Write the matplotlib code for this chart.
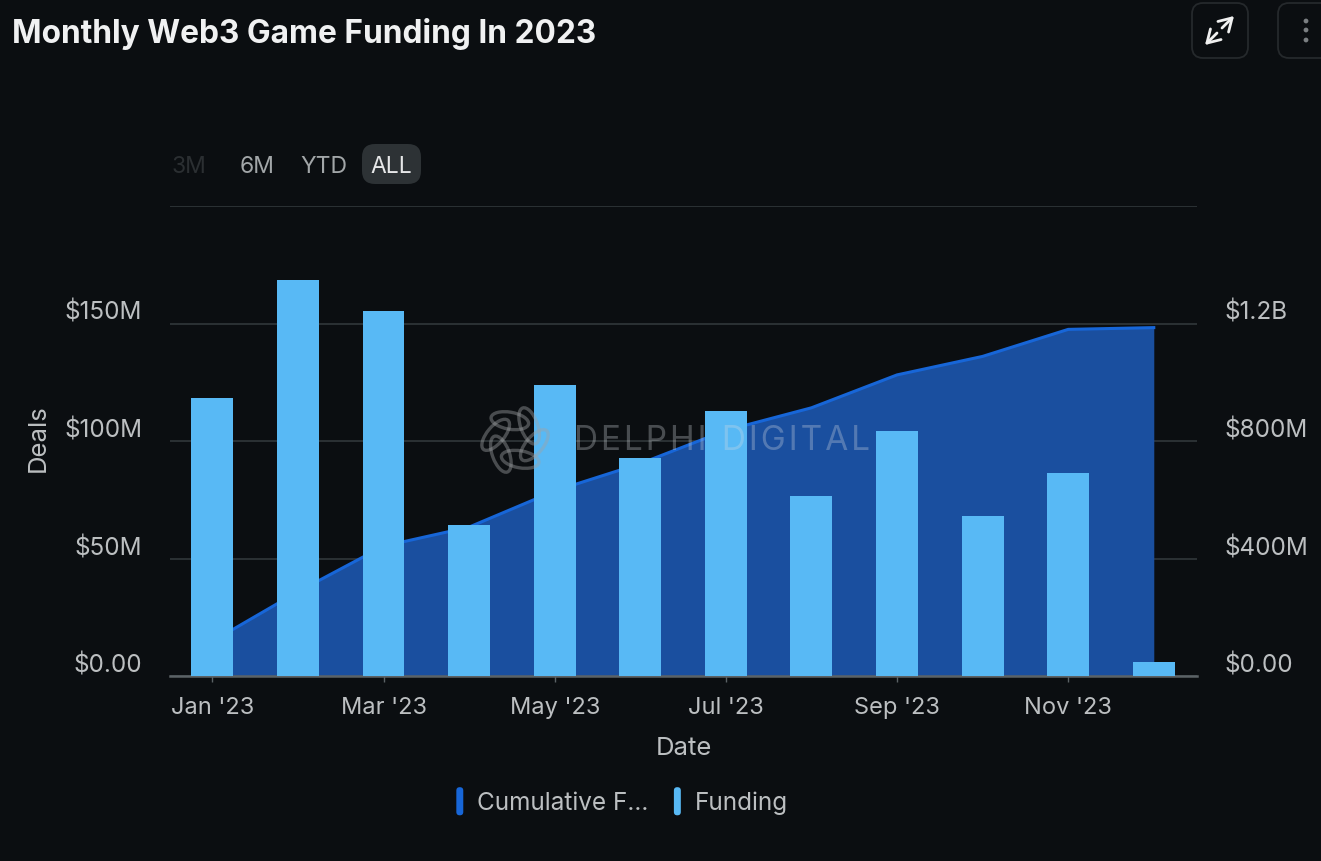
import numpy as np
import matplotlib
matplotlib.use('Agg')
import matplotlib.pyplot as plt
from matplotlib.legend_handler import HandlerBase
from matplotlib.patches import Ellipse, FancyBboxPatch, Circle
from matplotlib.transforms import ScaledTranslation

plt.rcParams['font.family'] = ['Inter', 'DejaVu Sans']

months = ["Jan '23", "Feb '23", "Mar '23", "Apr '23", "May '23", "Jun '23",
          "Jul '23", "Aug '23", "Sep '23", "Oct '23", "Nov '23", "Dec '23"]
funding = [118.3, 168.5, 155.3, 64.3, 123.8, 92.8, 112.8, 76.6, 104.3, 68, 86.4, 6]
cumulative = [118, 287, 442, 507, 630, 723, 836, 913, 1025, 1088, 1180, 1186]
left_ticks = [0, 50, 100, 150, 200]
left_labels = ['$0.00', '$50M', '$100M', '$150M', '']
right_ticks = [0, 400, 800, 1200, 1600]
right_labels = ['$0.00', '$400M', '$800M', '$1.2B', '']
range_buttons = ['3M', '6M', 'YTD', 'ALL']

BG = '#0b0e11'
TXT = '#bcbfc1'
W, H = 1321, 861

fig = plt.figure(figsize=(W / 100, H / 100), dpi=100, facecolor=BG)
rect = [170 / W, 1 - 676 / H, (1197 - 170) / W, (676 - 206) / H]
ax2 = fig.add_axes(rect, facecolor=BG)
ax = fig.add_axes(rect, sharex=ax2)
ax.set_zorder(ax2.get_zorder() + 1)
ax.patch.set_visible(False)

x = np.arange(len(months))

# area sits on the right axis, behind the bars
ax2.fill_between(x, cumulative, 0, color='#1a4f9f', lw=0, zorder=2)
ax2.plot(x, cumulative, color='#1766d8', lw=2.2, zorder=3)
ax2.set_ylim(0, 1600)
ax2.yaxis.tick_right()
ax2.set_yticks(right_ticks, right_labels)
ax2.grid(axis='y', color='#2b3134', lw=1.4, zorder=1)

bars = ax.bar(x, funding, width=0.49, color='#58b9f5', zorder=3)
ax.set_xlim(-0.495, 11.505)
ax.set_ylim(0, 200)
ax.set_yticks(left_ticks, left_labels)
ax.set_xticks(x[::2], months[::2])
ax.set_xlabel('Date', color=TXT, fontsize=18.5, labelpad=13)
ax.set_ylabel('Deals', color=TXT, fontsize=18.5)
ax.yaxis.set_label_coords((50 - 170) / (1197 - 170), (676 - 438) / (676 - 206))

for a in (ax, ax2):
    for s in a.spines.values():
        s.set_visible(False)
    a.tick_params(axis='y', length=0, pad=20, labelsize=17.5, labelcolor=TXT)
    a.tick_params(axis='x', length=4, width=1, color='#5b6266', pad=11,
                  labelsize=17, labelcolor=TXT)
ax.spines['bottom'].set_visible(True)
ax.spines['bottom'].set_color('#5b6266')
ax.spines['bottom'].set_linewidth(1.8)
ax2.tick_params(axis='x', length=0, labelbottom=False)

# value labels sit above their gridlines
up = ScaledTranslation(0, 13 / 100, fig.dpi_scale_trans)
for lab in ax.get_yticklabels() + ax2.get_yticklabels():
    lab.set_transform(lab.get_transform() + up)


class PillHandler(HandlerBase):
    def create_artists(self, legend, orig, xd, yd, width, height, fontsize, trans):
        p = FancyBboxPatch((xd, yd - 4), 5, height + 8, transform=trans,
                           boxstyle='round,pad=0,rounding_size=2.4', lw=0,
                           facecolor=orig.get_color())
        return [p]


h1, = ax.plot([], [], color='#1766d8')
h2, = ax.plot([], [], color='#58b9f5')
fig.legend([h1, h2], ['Cumulative F...', 'Funding'], loc='center',
           bbox_to_anchor=(622 / W, 1 - 803 / H), ncol=2, frameon=False,
           fontsize=17.5, labelcolor=TXT, handler_map={h1: PillHandler(), h2: PillHandler()},
           handlelength=0.45, handletextpad=0.4, columnspacing=1.05)

# overlay in pixel coordinates for the chrome around the chart
ov = fig.add_axes([0, 0, 1, 1], zorder=10)
ov.set_xlim(0, W)
ov.set_ylim(H, 0)
ov.axis('off')

ov.text(12, 34, 'Monthly Web3 Game Funding In 2023', color='#f0f1f2', fontsize=22.8,
        fontweight='bold', va='center', ha='left')

# range selector
ov.add_patch(FancyBboxPatch((362, 144), 59, 40, boxstyle='round,pad=0,rounding_size=13',
                            facecolor='#2d3235', lw=0))
btn_x = [189, 257, 324, 391]
btn_col = ['#2b2f32', '#a2a6a8', '#a2a6a8', '#e6e7e8']
for name, bx, col in zip(range_buttons, btn_x, btn_col):
    ov.text(bx, 167, name, color=col, fontsize=16.5, ha='center', va='center')

# expand and menu buttons
for bx, bw in ((1192, 56), (1278, 60)):
    ov.add_patch(FancyBboxPatch((bx, 3), bw, 55, boxstyle='round,pad=0,rounding_size=11',
                                facecolor='none', edgecolor='#25292c', lw=1.3))
arrow = dict(arrowstyle='->,head_length=0.5,head_width=0.3', color='#f0f0f0', lw=2,
             shrinkA=0, shrinkB=0, mutation_scale=18)
ov.annotate('', xy=(1234, 16), xytext=(1222, 28), arrowprops=arrow)
ov.annotate('', xy=(1205, 45), xytext=(1217, 33), arrowprops=arrow)
for dy in (21, 30, 40):
    ov.add_patch(Circle((1306, dy), 2.4, facecolor='#7b7f82', lw=0))

# watermark
for k in range(6):
    th = np.deg2rad(60 * k + 15)
    ov.add_patch(Ellipse((515 + 20 * np.cos(th), 440 + 20 * np.sin(th)), 38, 17,
                         angle=60 * k + 15 + 115, facecolor='none',
                         edgecolor='#a0a3a5', alpha=0.42, lw=2.4))
ov.text(722, 441, '\u200a'.join('DELPHI DIGITAL'), color='#d8dde2', alpha=0.3, fontsize=24,
        ha='center', va='center')

fig.savefig('out.png', dpi=100, facecolor=BG)
